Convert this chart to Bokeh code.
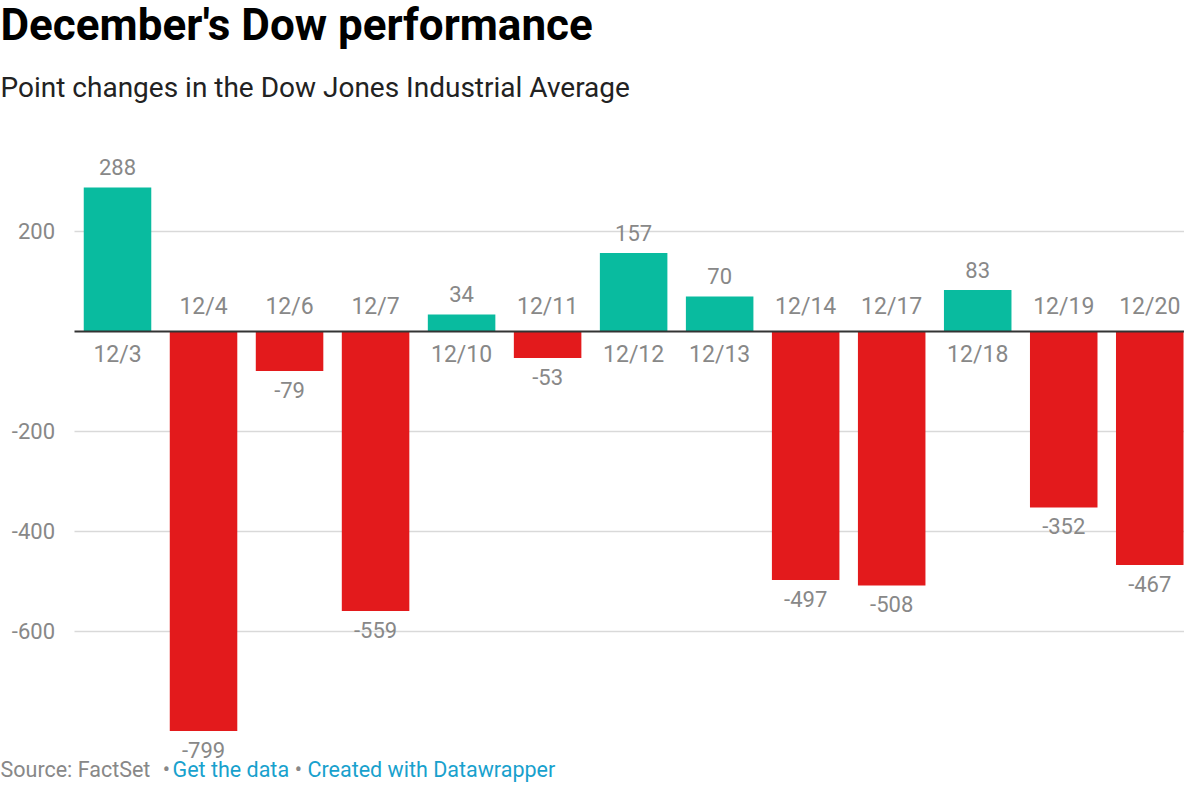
from bokeh.plotting import figure
from bokeh.models import ColumnDataSource, Range1d, Label
from bokeh.core.properties import value
from bokeh.embed import file_html
from bokeh.resources import INLINE

# ---- data ----
dates = ["12/3", "12/4", "12/6", "12/7", "12/10", "12/11", "12/12",
         "12/13", "12/14", "12/17", "12/18", "12/19", "12/20"]
changes = [288, -799, -79, -559, 34, -53, 157, 70, -497, -508, 83, -352, -467]
y_ticks = [200, -200, -400, -600]
y_tick_labels = ["200", "-200", "-400", "-600"]

TEAL = "#09bb9f"
RED = "#e31a1c"
GRAY = "#888888"
BLUE = "#18a1cd"
FONT = "Roboto"

# ---- layout constants (pixels) ----
W, H = 1184, 784
LEFT = 74          # px from canvas left to first category slot
SLOT = 86.02       # px per category slot
ZERO = 331         # canvas y of the zero line
PX_PER_UNIT = 0.5  # vertical scale
BIAS = 0.386       # svg alphabetic-baseline shift, in em


def b(fs):
    return BIAS * fs


n = len(dates)
idx = list(range(n))
colors = [TEAL if v >= 0 else RED for v in changes]
src = ColumnDataSource(dict(i=idx, change=changes, color=colors))

pos_i = [i for i, v in zip(idx, changes) if v >= 0]
neg_i = [i for i, v in zip(idx, changes) if v < 0]
pos = ColumnDataSource(dict(i=pos_i, change=[changes[i] for i in pos_i],
                            label=[str(changes[i]) for i in pos_i],
                            date=[dates[i] for i in pos_i]))
neg = ColumnDataSource(dict(i=neg_i, change=[changes[i] for i in neg_i],
                            label=[str(changes[i]) for i in neg_i],
                            date=[dates[i] for i in neg_i]))

x_start = -0.5 - LEFT / SLOT
x_end = x_start + W / SLOT
y_top = ZERO / PX_PER_UNIT
y_bot = -(H - ZERO) / PX_PER_UNIT

p = figure(width=W, height=H, output_backend="svg", toolbar_location=None,
           x_range=Range1d(x_start, x_end), y_range=Range1d(y_bot, y_top),
           x_axis_location=None, y_axis_location=None, min_border=0)
p.outline_line_color = None
p.background_fill_color = "white"
p.grid.visible = False

# gridlines + tick labels
grid = ColumnDataSource(dict(y=y_ticks, label=y_tick_labels,
                             x0=[-0.5] * len(y_ticks), x1=[n - 0.5] * len(y_ticks)))
p.segment(x0="x0", x1="x1", y0="y", y1="y", source=grid,
          line_color="#d9d9d9", line_width=1.5)
p.text(x="x0", y="y", text="label", source=grid, x_offset=-19.5, y_offset=7.5 - b(22),
       text_font=value(FONT), text_font_size="22px", text_color=GRAY,
       text_align="right", text_baseline="alphabetic")

# bars
p.vbar(x="i", top="change", bottom=0, width=0.785, color="color",
       line_color=None, source=src)

# zero line
p.segment(x0=[-0.5], x1=[n - 0.5], y0=[0], y1=[0], line_color="#333333", line_width=2)

val = dict(text_font=value(FONT), text_font_size="22px", text_color=GRAY,
           text_align="center", text_baseline="alphabetic")
cat = dict(val, text_font_size="23px")
p.text(x="i", y="change", text="label", y_offset=-12 - b(22), source=pos, **val)
p.text(x="i", y="change", text="label", y_offset=27 - b(22), source=neg, **val)
p.text(x="i", y=0, text="date", y_offset=32 - b(23), source=pos, **cat)
p.text(x="i", y=0, text="date", y_offset=-16 - b(23), source=neg, **cat)

# title, subtitle, footer (screen units, y measured up from the bottom)
p.add_layout(Label(x=0, y=H - 41 + b(44), x_units="screen", y_units="screen",
                   text="December's Dow performance", text_font=FONT,
                   text_font_size="44px", text_font_style="bold", text_color="#000000",
                   text_baseline="alphabetic"))
p.add_layout(Label(x=0, y=H - 97.5 + b(28), x_units="screen", y_units="screen",
                   text="Point changes in the Dow Jones Industrial Average", text_font=FONT,
                   text_font_size="28px", text_color="#222222",
                   text_baseline="alphabetic"))
foot = [("Source: FactSet", GRAY, 0, "left"), ("\u2022", GRAY, 166, "center"),
        ("Get the data", BLUE, 172, "left"), ("\u2022", GRAY, 298, "center"),
        ("Created with Datawrapper", BLUE, 307, "left")]
for t, c, px, al in foot:
    p.add_layout(Label(x=px, y=H - 777 + b(21.5), x_units="screen", y_units="screen",
                       text=t, text_font=FONT, text_font_size="21.5px", text_color=c,
                       text_align=al, text_baseline="alphabetic"))

open("out.html", "w").write(file_html(p, INLINE))
